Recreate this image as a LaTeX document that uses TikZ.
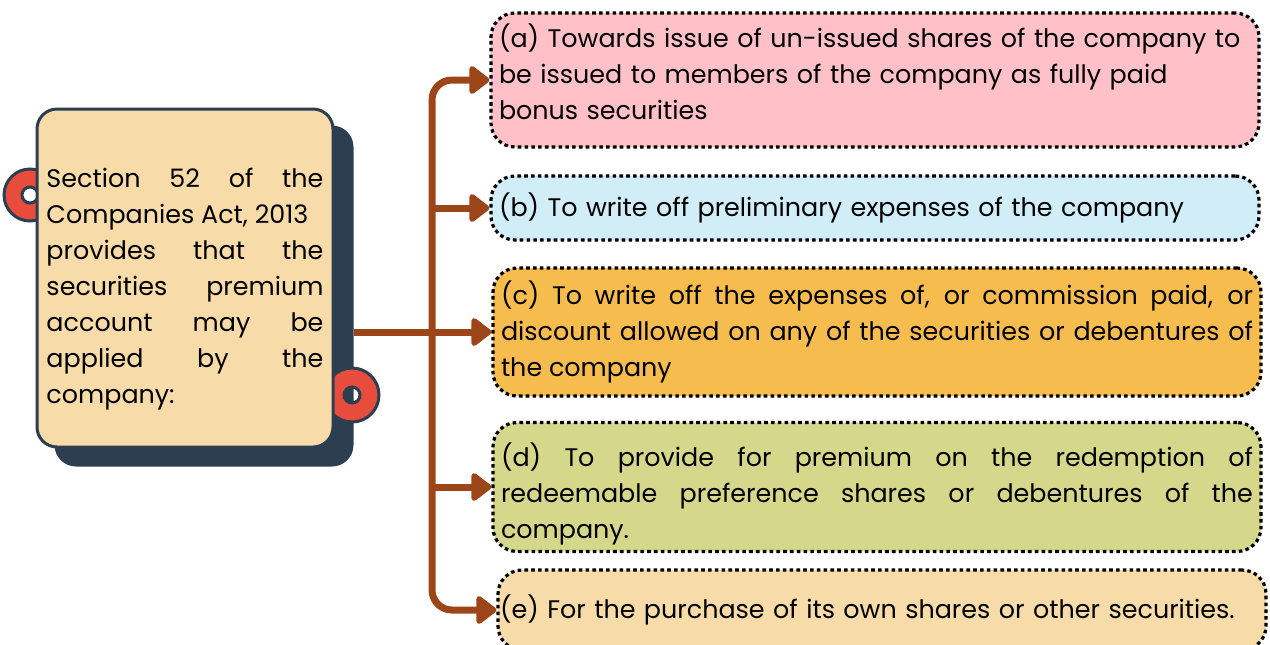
\documentclass[tikz,border=0pt]{standalone}
\usepackage{fontspec}
\setmainfont{Poppins}
\usetikzlibrary{arrows.meta,calc}
\definecolor{navy}{HTML}{2C3E50}
\definecolor{peach}{HTML}{F7DCAA}
\definecolor{pinkbox}{HTML}{FFC0C7}
\definecolor{skybox}{HTML}{D0EDF8}
\definecolor{amber}{HTML}{F6BC4E}
\definecolor{olive}{HTML}{D5D88B}
\definecolor{rust}{HTML}{9C4519}
\definecolor{ringred}{HTML}{E74C3C}
\newcommand\boxfont{\fontsize{12.7}{18}\selectfont\hyphenpenalty=10000\relax}

\begin{document}
\begin{tikzpicture}[x=0.5pt,y=-0.5pt,every node/.style={font=\boxfont},
  option/.style={draw=black,line width=1.6pt,dash pattern=on 1.8pt off 1.6pt,rounded corners=12pt,
    text width=376pt,inner xsep=4pt},
  ring/.style={fill=ringred,draw=navy,line width=1.5pt,even odd rule},
  link/.style={draw=rust,line width=3.5pt},
  tip/.style={-{Triangle[length=11pt,width=16pt,round]}}]
\useasboundingbox (0,0) rectangle (1270,644);
\node[fill=navy,draw=navy,line width=1.5pt,rounded corners=10pt,minimum width=148pt,minimum height=169pt] (shadow) at (204,296) {};
\draw[ring] (352,395) circle (13.5pt) circle (4pt);
\draw[ring] (30,195) circle (13pt) circle (4pt);
\node[fill=peach,draw=navy,line width=1.5pt,rounded corners=10pt,minimum width=148pt,minimum height=169pt,
  text width=138.5pt,align=justify] (main) at (185,278)
  {\rule{0pt}{21pt}Section 52 of the Companies Act, 2013\\ provides that the securities premium account may be applied by the company:};
\node[option,fill=pinkbox,align=left,minimum height=67pt] (a) at (875,80)
  {(a) Towards issue of un-issued shares of the company to\\ be issued to members of the company as fully paid\\ bonus securities\rule[-8.5pt]{0pt}{0pt}};
\node[option,fill=skybox,align=left,minimum height=32pt] (b) at (875,208)
  {(b) To write off preliminary expenses of the company};
\node[option,fill=amber,align=justify,minimum height=64pt] (c) at (877,332)
  {(c) To write off the expenses of, or commission paid, or\linebreak discount allowed on any of the securities or debentures of\linebreak the company};
\node[option,fill=olive,align=justify,minimum height=64pt] (d) at (877,487)
  {\rule{0pt}{18.5pt}(d) To provide for premium on the redemption of\linebreak redeemable preference shares or debentures of the\linebreak company.};
\node[option,fill=peach,align=left,minimum height=40pt,text width=382pt,inner xsep=1pt] (e) at (882,610)
  {(e) For the purchase of its own shares or other securities.};
\coordinate (tr) at (432,0);
\draw[link,{Triangle[length=11pt,width=16pt,round]}-{Triangle[length=11pt,width=16pt,round]},rounded corners=10pt]
  (e.west) -| (a.west -| tr) -- (a.west);
\draw[link,tip] (b.west -| tr) -- (b.west);
\draw[link,tip] (d.west -| tr) -- (d.west);
\draw[link,tip] (shadow.east |- c.west) -- (c.west);
\end{tikzpicture}
\end{document}
